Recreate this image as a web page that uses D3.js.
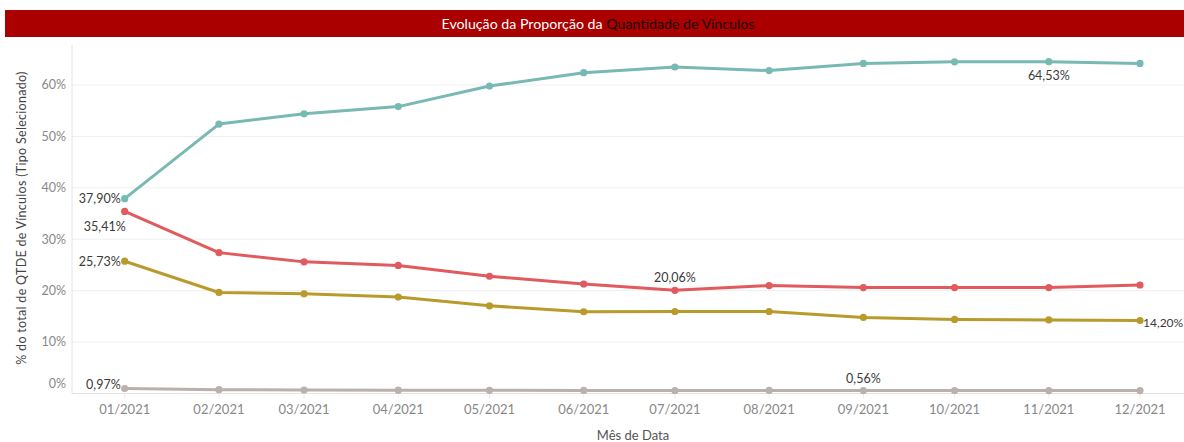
<!DOCTYPE html>
<html lang="pt">
<head>
<meta charset="utf-8">
<title>Evolução da Proporção da Quantidade de Vínculos</title>
<script src="https://cdnjs.cloudflare.com/ajax/libs/d3/7.8.5/d3.min.js"></script>
<style>
  body { margin: 0; background: #fff; }
  text { font-family: Lato, "Open Sans", sans-serif; }
</style>
</head>
<body>
<script>
// data
var months = ["2021-01-01","2021-02-01","2021-03-01","2021-04-01","2021-05-01","2021-06-01",
              "2021-07-01","2021-08-01","2021-09-01","2021-10-01","2021-11-01","2021-12-01"];
var teal  = [37.90, 52.4, 54.4, 55.8, 59.8, 62.4, 63.5, 62.8, 64.2, 64.5, 64.53, 64.2];
var red   = [35.41, 27.4, 25.6, 24.9, 22.8, 21.3, 20.06, 21.0, 20.6, 20.6, 20.6, 21.1];
var gold  = [25.73, 19.65, 19.4, 18.75, 17.05, 15.9, 15.95, 15.95, 14.8, 14.4, 14.3, 14.20];
var grey  = [0.97, 0.74, 0.68, 0.65, 0.62, 0.60, 0.58, 0.60, 0.56, 0.58, 0.57, 0.56];
var yTicks = [0, 10, 20, 30, 40, 50, 60];

var w = 1184, h = 442;
var parse = d3.timeParse("%Y-%m-%d");
var dates = months.map(parse);

var svg = d3.select("body").append("svg").attr("width", w).attr("height", h);

// title bar
svg.append("rect").attr("x", 5).attr("y", 10).attr("width", w - 5).attr("height", 27)
   .attr("fill", "#aa0000");
var title = svg.append("text").attr("x", 598).attr("y", 28.5).attr("text-anchor", "middle")
   .style("font-size", "14.2px");
title.append("tspan").attr("fill", "#fff").text("Evolução da Proporção da ");
title.append("tspan").attr("fill", "#1a0a0a").text("Quantidade de Vínculos");

// scales
var x = d3.scaleTime()
    .domain([parse("2021-01-01"), parse("2021-12-01")])
    .range([124.7, 1140]);
var y = d3.scaleLinear().domain([0, 60]).range([393.5, 85]);
var left = 72, right = w;

// gridlines
svg.selectAll("line.grid").data(yTicks.slice(1)).enter().append("line")
   .attr("x1", left).attr("x2", right)
   .attr("y1", function(d) { return y(d); }).attr("y2", function(d) { return y(d); })
   .attr("stroke", "#efefef").attr("stroke-width", 1);

// axes lines
svg.append("line").attr("x1", left).attr("x2", left).attr("y1", 45).attr("y2", y(0))
   .attr("stroke", "#e4e4e4");
svg.append("line").attr("x1", left).attr("x2", right).attr("y1", y(0)).attr("y2", y(0))
   .attr("stroke", "#e4e4e4");

// y tick labels
svg.selectAll("text.ytick").data(yTicks).enter().append("text")
   .attr("x", 66)
   .attr("y", function(d) { return d === 0 ? y(0) - 10 : y(d); })
   .attr("dy", "0.35em")
   .attr("text-anchor", "end")
   .attr("fill", "#888")
   .style("font-size", "12.5px")
   .text(function(d) { return d + "%"; });

// x axis ticks + labels
var fmt = d3.timeFormat("%m/%Y");
svg.selectAll("line.xtick").data(dates).enter().append("line")
   .attr("x1", function(d) { return x(d); }).attr("x2", function(d) { return x(d); })
   .attr("y1", y(0)).attr("y2", y(0) + 5)
   .attr("stroke", "#eee");
svg.selectAll("text.xtick").data(dates).enter().append("text")
   .attr("x", function(d) { return x(d); })
   .attr("y", 409).attr("dy", "0.35em")
   .attr("text-anchor", "middle")
   .attr("fill", "#888")
   .style("font-size", "13px")
   .text(function(d) { return fmt(d); });

// axis titles
svg.append("text").attr("x", 633).attr("y", 440).attr("text-anchor", "middle")
   .attr("fill", "#555").style("font-size", "13px").text("Mês de Data");
svg.append("text")
   .attr("transform", "translate(26,218) rotate(-90)")
   .attr("text-anchor", "middle").attr("fill", "#444")
   .style("font-size", "12.5px").style("letter-spacing", "0.3px")
   .text("% do total de QTDE de Vínculos (Tipo Selecionado)");

// lines
var series = [
  { values: grey, color: "#bab0ac" },
  { values: gold, color: "#b99b2c" },
  { values: red,  color: "#e05a5e" },
  { values: teal, color: "#79b9b3" }
];
var line = d3.line()
   .x(function(d, i) { return x(dates[i]); })
   .y(function(d) { return y(d); });

series.forEach(function(s) {
  svg.append("path").datum(s.values)
     .attr("d", line).attr("fill", "none")
     .attr("stroke", s.color).attr("stroke-width", 3)
     .attr("stroke-linejoin", "round");
  svg.selectAll(null).data(s.values).enter().append("circle")
     .attr("cx", function(d, i) { return x(dates[i]); })
     .attr("cy", function(d) { return y(d); })
     .attr("r", 3.6).attr("fill", s.color);
});

// value labels
function pct(v) { return v.toFixed(2).replace(".", ",") + "%"; }
var labels = [
  { s: teal, i: 0,  dx: -4,  dy: 0,   anchor: "end" },
  { s: red,  i: 0,  dx: 1,   dy: 15,  anchor: "end" },
  { s: gold, i: 0,  dx: -4,  dy: 0,   anchor: "end" },
  { s: grey, i: 0,  dx: -4,  dy: -4,  anchor: "end" },
  { s: red,  i: 6,  dx: 0,   dy: -13, anchor: "middle" },
  { s: grey, i: 8,  dx: 0,   dy: -12, anchor: "middle" },
  { s: teal, i: 10, dx: 0,   dy: 14,  anchor: "middle" },
  { s: gold, i: 11, dx: 3,   dy: 2,   anchor: "start" }
];
labels.forEach(function(l) {
  svg.append("text")
     .attr("x", x(dates[l.i]) + l.dx)
     .attr("y", y(l.s[l.i]) + l.dy)
     .attr("dy", "0.35em")
     .attr("text-anchor", l.anchor)
     .attr("fill", "#3a3a3a")
     .style("font-size", l.i === 11 ? "12px" : "12.5px")
     .text(pct(l.s[l.i]));
});
</script>
</body>
</html>
